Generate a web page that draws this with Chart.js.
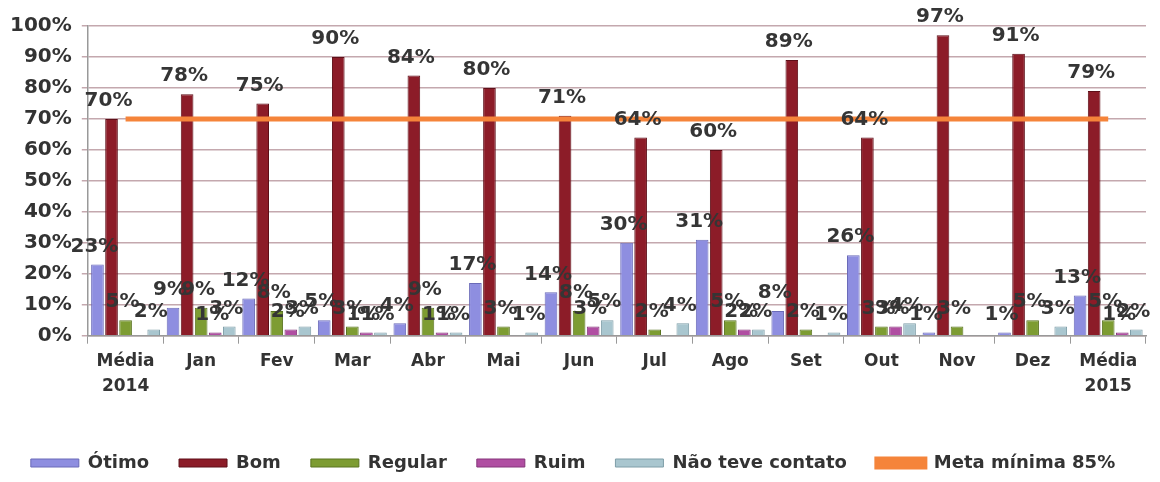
<!DOCTYPE html>
<html>
<head>
  <title>Avaliação do atendimento</title>
  <script src="https://cdn.jsdelivr.net/npm/chart.js"></script>
  <style>
    body {
      margin: 0;
      background-color: #fff;
    }
    .chart-container {
      width: 1160px;
      height: 482px;
    }
  </style>
</head>
<body>
  <div class="chart-container">
    <canvas id="avaliacaoChart"></canvas>
  </div>

  <script>
    // categorias e séries
    const categorias = [['Média', '2014'], 'Jan', 'Fev', 'Mar', 'Abr', 'Mai', 'Jun', 'Jul', 'Ago', 'Set', 'Out', 'Nov', 'Dez', ['Média', '2015']];
    const otimo   = [23, 9, 12, 5, 4, 17, 14, 30, 31, 8, 26, 1, 1, 13];
    const bom     = [70, 78, 75, 90, 84, 80, 71, 64, 60, 89, 64, 97, 91, 79];
    const regular = [5, 9, 8, 3, 9, 3, 8, 2, 5, 2, 3, 3, 5, 5];
    const ruim    = [0, 1, 2, 1, 1, 0, 3, 0, 2, 0, 3, 0, 0, 1];
    const naoTeve = [2, 3, 3, 1, 1, 1, 5, 4, 2, 1, 4, 0, 3, 2];
    const meta    = [70, 70, 70, 70, 70, 70, 70, 70, 70, 70, 70, 70, 70, 70];

    const fonte = "'DejaVu Sans', Verdana, sans-serif";

    // rótulos de valor em cima das barras
    const rotulos = {
      id: 'rotulos',
      afterDatasetsDraw(chart) {
        const ctx = chart.ctx;
        ctx.save();
        ctx.font = 'bold 20px ' + fonte;
        ctx.fillStyle = '#353535';
        ctx.textAlign = 'center';
        ctx.textBaseline = 'bottom';
        chart.data.datasets.forEach((ds, i) => {
          if (ds.type === 'line') return;
          const meta = chart.getDatasetMeta(i);
          meta.data.forEach((bar, j) => {
            const v = ds.data[j];
            if (!v) return;
            ctx.fillText(v + '%', bar.x - 3, bar.y - 8);
          });
        });
        ctx.restore();
      }
    };

    const ctx = document.getElementById('avaliacaoChart').getContext('2d');
    new Chart(ctx, {
      type: 'bar',
      data: {
        labels: categorias,
        datasets: [
          { label: 'Ótimo', data: otimo, backgroundColor: '#8e8ee0', borderColor: '#6a6ab8', borderWidth: 1, order: 2 },
          { label: 'Bom', data: bom, backgroundColor: '#8c1c28', borderColor: '#5e0f18', borderWidth: 1, order: 2 },
          { label: 'Regular', data: regular, backgroundColor: '#7d9c32', borderColor: '#5a7420', borderWidth: 1, order: 2 },
          { label: 'Ruim', data: ruim, backgroundColor: '#b04ea2', borderColor: '#85357a', borderWidth: 1, order: 2 },
          { label: 'Não teve contato', data: naoTeve, backgroundColor: '#a9c6cf', borderColor: '#7f9ea8', borderWidth: 1, order: 2 },
          {
            type: 'line',
            label: 'Meta mínima 85%',
            data: meta,
            borderColor: '#f5843a',
            backgroundColor: '#f5843a',
            borderWidth: 5,
            pointRadius: 0,
            order: 1
          }
        ]
      },
      options: {
        responsive: true,
        maintainAspectRatio: false,
        animation: false,
        layout: {
          padding: { top: 26, right: 14, left: 0, bottom: 0 }
        },
        datasets: {
          bar: { categoryPercentage: 0.93, barPercentage: 0.9 }
        },
        scales: {
          y: {
            min: 0,
            max: 100,
            ticks: {
              stepSize: 10,
              callback: v => v + '%',
              color: '#333',
              font: { family: fonte, size: 20, weight: 'bold' },
              padding: 10,
              autoSkip: false
            },
            grid: { color: '#c4a8ae', lineWidth: 1.5, tickLength: 6 },
            border: { color: '#999', width: 1.5 }
          },
          x: {
            ticks: {
              color: '#333',
              font: { family: fonte, size: 17, weight: 'bold', lineHeight: 1.45 },
              padding: 6,
              maxRotation: 0,
              autoSkip: false
            },
            grid: { drawOnChartArea: false, color: '#999', tickLength: 8 },
            border: { color: '#999', width: 1.5 },
            afterFit: scale => { scale.height += 19; }
          }
        },
        plugins: {
          legend: {
            position: 'bottom',
            labels: {
              color: '#333',
              font: { family: fonte, size: 18, weight: 'bold', lineHeight: 0.6 },
              boxWidth: 48,
              boxHeight: 8,
              padding: 30,
              sort: (a, b) => a.datasetIndex - b.datasetIndex
            }
          },
          tooltip: { enabled: false }
        }
      },
      plugins: [rotulos]
    });
  </script>
</body>
</html>
